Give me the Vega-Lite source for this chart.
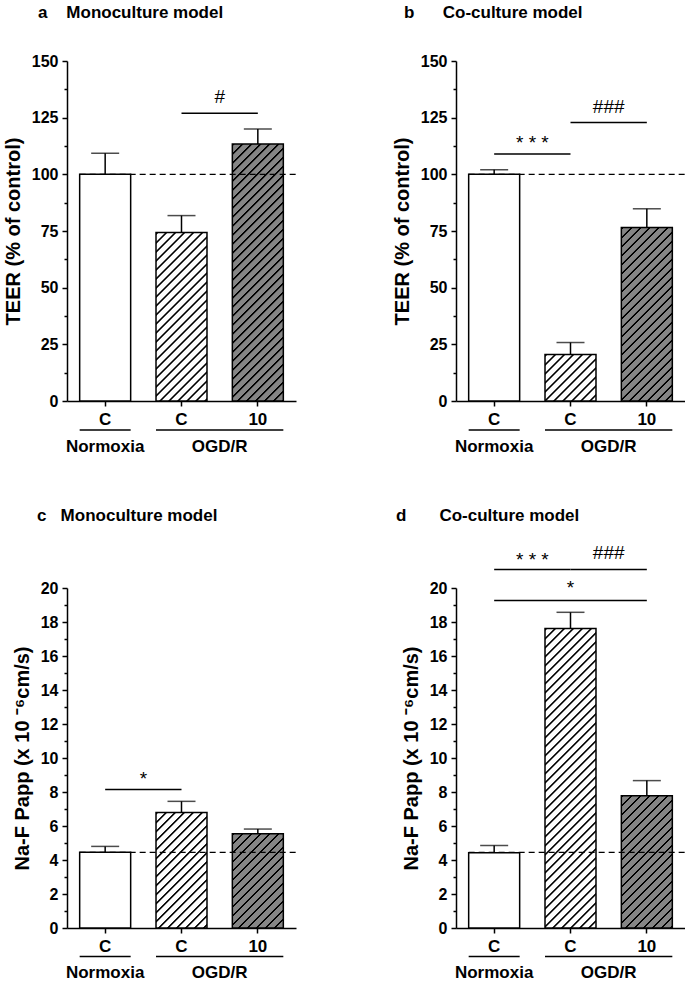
{
"$schema":"https://vega.github.io/schema/vega-lite/v6.json",
"padding":{"left":3,"top":4,"right":0,"bottom":0},
"params":[{"name":"hs","value":[
{"offset":0,"color":"transparent"},{"offset":0.002,"color":"#000"},{"offset":0.006,"color":"#000"},{"offset":0.008,"color":"transparent"},
{"offset":0.025,"color":"transparent"},{"offset":0.027,"color":"#000"},{"offset":0.031,"color":"#000"},{"offset":0.033,"color":"transparent"},
{"offset":0.05,"color":"transparent"},{"offset":0.052,"color":"#000"},{"offset":0.056,"color":"#000"},{"offset":0.058,"color":"transparent"},
{"offset":0.075,"color":"transparent"},{"offset":0.077,"color":"#000"},{"offset":0.081,"color":"#000"},{"offset":0.083,"color":"transparent"},
{"offset":0.1,"color":"transparent"},{"offset":0.102,"color":"#000"},{"offset":0.106,"color":"#000"},{"offset":0.108,"color":"transparent"},
{"offset":0.125,"color":"transparent"},{"offset":0.127,"color":"#000"},{"offset":0.131,"color":"#000"},{"offset":0.133,"color":"transparent"},
{"offset":0.15,"color":"transparent"},{"offset":0.152,"color":"#000"},{"offset":0.156,"color":"#000"},{"offset":0.158,"color":"transparent"},
{"offset":0.175,"color":"transparent"},{"offset":0.177,"color":"#000"},{"offset":0.181,"color":"#000"},{"offset":0.183,"color":"transparent"},
{"offset":0.2,"color":"transparent"},{"offset":0.202,"color":"#000"},{"offset":0.206,"color":"#000"},{"offset":0.208,"color":"transparent"},
{"offset":0.225,"color":"transparent"},{"offset":0.227,"color":"#000"},{"offset":0.231,"color":"#000"},{"offset":0.233,"color":"transparent"},
{"offset":0.25,"color":"transparent"},{"offset":0.252,"color":"#000"},{"offset":0.256,"color":"#000"},{"offset":0.258,"color":"transparent"},
{"offset":0.275,"color":"transparent"},{"offset":0.277,"color":"#000"},{"offset":0.281,"color":"#000"},{"offset":0.283,"color":"transparent"},
{"offset":0.3,"color":"transparent"},{"offset":0.302,"color":"#000"},{"offset":0.306,"color":"#000"},{"offset":0.308,"color":"transparent"},
{"offset":0.325,"color":"transparent"},{"offset":0.327,"color":"#000"},{"offset":0.331,"color":"#000"},{"offset":0.333,"color":"transparent"},
{"offset":0.35,"color":"transparent"},{"offset":0.352,"color":"#000"},{"offset":0.356,"color":"#000"},{"offset":0.358,"color":"transparent"},
{"offset":0.375,"color":"transparent"},{"offset":0.377,"color":"#000"},{"offset":0.381,"color":"#000"},{"offset":0.383,"color":"transparent"},
{"offset":0.4,"color":"transparent"},{"offset":0.402,"color":"#000"},{"offset":0.406,"color":"#000"},{"offset":0.408,"color":"transparent"},
{"offset":0.425,"color":"transparent"},{"offset":0.427,"color":"#000"},{"offset":0.431,"color":"#000"},{"offset":0.433,"color":"transparent"},
{"offset":0.45,"color":"transparent"},{"offset":0.452,"color":"#000"},{"offset":0.456,"color":"#000"},{"offset":0.458,"color":"transparent"},
{"offset":0.475,"color":"transparent"},{"offset":0.477,"color":"#000"},{"offset":0.481,"color":"#000"},{"offset":0.483,"color":"transparent"},
{"offset":0.5,"color":"transparent"},{"offset":0.502,"color":"#000"},{"offset":0.506,"color":"#000"},{"offset":0.508,"color":"transparent"},
{"offset":0.525,"color":"transparent"},{"offset":0.527,"color":"#000"},{"offset":0.531,"color":"#000"},{"offset":0.533,"color":"transparent"},
{"offset":0.55,"color":"transparent"},{"offset":0.552,"color":"#000"},{"offset":0.556,"color":"#000"},{"offset":0.558,"color":"transparent"},
{"offset":0.575,"color":"transparent"},{"offset":0.577,"color":"#000"},{"offset":0.581,"color":"#000"},{"offset":0.583,"color":"transparent"},
{"offset":0.6,"color":"transparent"},{"offset":0.602,"color":"#000"},{"offset":0.606,"color":"#000"},{"offset":0.608,"color":"transparent"},
{"offset":0.625,"color":"transparent"},{"offset":0.627,"color":"#000"},{"offset":0.631,"color":"#000"},{"offset":0.633,"color":"transparent"},
{"offset":0.65,"color":"transparent"},{"offset":0.652,"color":"#000"},{"offset":0.656,"color":"#000"},{"offset":0.658,"color":"transparent"},
{"offset":0.675,"color":"transparent"},{"offset":0.677,"color":"#000"},{"offset":0.681,"color":"#000"},{"offset":0.683,"color":"transparent"},
{"offset":0.7,"color":"transparent"},{"offset":0.702,"color":"#000"},{"offset":0.706,"color":"#000"},{"offset":0.708,"color":"transparent"},
{"offset":0.725,"color":"transparent"},{"offset":0.727,"color":"#000"},{"offset":0.731,"color":"#000"},{"offset":0.733,"color":"transparent"},
{"offset":0.75,"color":"transparent"},{"offset":0.752,"color":"#000"},{"offset":0.756,"color":"#000"},{"offset":0.758,"color":"transparent"},
{"offset":0.775,"color":"transparent"},{"offset":0.777,"color":"#000"},{"offset":0.781,"color":"#000"},{"offset":0.783,"color":"transparent"},
{"offset":0.8,"color":"transparent"},{"offset":0.802,"color":"#000"},{"offset":0.806,"color":"#000"},{"offset":0.808,"color":"transparent"},
{"offset":0.825,"color":"transparent"},{"offset":0.827,"color":"#000"},{"offset":0.831,"color":"#000"},{"offset":0.833,"color":"transparent"},
{"offset":0.85,"color":"transparent"},{"offset":0.852,"color":"#000"},{"offset":0.856,"color":"#000"},{"offset":0.858,"color":"transparent"},
{"offset":0.875,"color":"transparent"},{"offset":0.877,"color":"#000"},{"offset":0.881,"color":"#000"},{"offset":0.883,"color":"transparent"},
{"offset":0.9,"color":"transparent"},{"offset":0.902,"color":"#000"},{"offset":0.906,"color":"#000"},{"offset":0.908,"color":"transparent"},
{"offset":0.925,"color":"transparent"},{"offset":0.927,"color":"#000"},{"offset":0.931,"color":"#000"},{"offset":0.933,"color":"transparent"},
{"offset":0.95,"color":"transparent"},{"offset":0.952,"color":"#000"},{"offset":0.956,"color":"#000"},{"offset":0.958,"color":"transparent"},
{"offset":0.975,"color":"transparent"},{"offset":0.977,"color":"#000"},{"offset":0.981,"color":"#000"},{"offset":0.983,"color":"transparent"}
]}],
"datasets":{
"groups":[{"from":"N","to":"N","g":"Normoxia"},{"from":"O","to":"T","g":"OGD/R"}]
},
"columns":2,
"spacing":{"row":50,"column":95},
"concat":[
{
"name":"pa","width":229,"height":340,
"title":{"text":"a\u00a0\u00a0\u00a0\u00a0Monoculture model","anchor":"start","frame":"group","dx":-29,"offset":18,"baseline":"alphabetic","fontSize":17,"fontWeight":"bold","color":"#000"},
"data":{"values":[{"k":"N","v":100,"hi":109.3},{"k":"O","v":74.3,"hi":81.8},{"k":"T","v":113.4,"hi":120}]},
"layer":[
{"mark":{"type":"bar"},
 "encoding":{
  "x":{"field":"k","type":"nominal","scale":{"domain":["N","O","T"],"paddingInner":0.332,"paddingOuter":0.166},"axis":{"title":null,"labelExpr":"datum.value == 'T' ? '10' : 'C'","labelAngle":0,"labelFontSize":17,"tickSize":5,"labelPadding":5}},
  "y":{"field":"v","type":"quantitative","scale":{"domain":[0,150],"nice":false},"axis":{"title":"TEER (% of control)","values":[0,12.5,25,37.5,50,62.5,75,87.5,100,112.5,125,137.5,150],"tickCount":40,"format":"d","labelExpr":"datum.value % 25 == 0 ? datum.label : ''","labelOverlap":false,"tickSize":{"condition":{"test":"datum.value % 25 == 0","value":5},"value":3},"labelFontSize":16,"titleFontSize":20,"titlePadding":8,"labelPadding":4}},
  "fill":{"field":"k","type":"nominal","scale":{"domain":["N","O","T"],"range":["#ffffff","#ffffff","#858585"]},"legend":null}}},
{"data":{"values":[{"from":"N","to":"T","ref":100}]},"mark":{"type":"rule","strokeDash":[6,4],"strokeWidth":1.3,"color":"#000"},
 "encoding":{"x":{"field":"from","type":"nominal","bandPosition":0},"x2":{"field":"to","bandPosition":1.25},"y":{"field":"ref","type":"quantitative"}}},
{"transform":[{"filter":"datum.k != 'N'"}],"mark":{"type":"bar","fill":{"expr":"{gradient:'linear',x1:0,y1:0,x2:18360/(2601+pow(datum.v*2.26667,2)),y2:360*datum.v*2.26667/(2601+pow(datum.v*2.26667,2)),stops:hs}"}},
 "encoding":{"x":{"field":"k","type":"nominal"},"y":{"field":"v","type":"quantitative"}}},
{"mark":{"type":"bar","fillOpacity":0,"stroke":"#000","strokeWidth":1.5},
 "encoding":{"x":{"field":"k","type":"nominal"},"y":{"field":"v","type":"quantitative"}}},
{"mark":{"type":"rule","color":"#000","strokeWidth":1.5},
 "encoding":{"x":{"field":"k","type":"nominal"},"y":{"field":"v","type":"quantitative"},"y2":{"field":"hi"}}},
{"mark":{"type":"tick","color":"#000","thickness":1.5,"size":28},
 "encoding":{"x":{"field":"k","type":"nominal"},"y":{"field":"hi","type":"quantitative"}}},
{"data":{"values":[{"a":"O","b":"T","y":127,"ty":134,"s":"#"}]},"mark":{"type":"rule","color":"#000","strokeWidth":1.5},
 "encoding":{"x":{"field":"a","type":"nominal","bandPosition":0.5},"x2":{"field":"b","bandPosition":0.5},"y":{"field":"y","type":"quantitative"}}},
{"data":{"values":[{"a":"O","b":"T","y":127,"ty":134,"s":"#"}]},"mark":{"type":"text","fontSize":19,"baseline":"middle","color":"#000"},
 "encoding":{"x":{"field":"b","type":"nominal","bandPosition":-0.2485},"y":{"field":"ty","type":"quantitative"},"text":{"field":"s"}}},
{"data":{"name":"groups"},"mark":{"type":"rule","color":"#000","strokeWidth":1.5},
 "encoding":{"x":{"field":"from","type":"nominal","bandPosition":0},"x2":{"field":"to","bandPosition":1},"y":{"datum":-12.8,"type":"quantitative"}}},
{"data":{"name":"groups"},"transform":[{"filter":"datum.from == 'N'"}],"mark":{"type":"text","fontSize":17,"fontWeight":"bold","baseline":"middle","color":"#000"},
 "encoding":{"x":{"field":"from","type":"nominal","bandPosition":0.5},"y":{"datum":-20.3,"type":"quantitative"},"text":{"field":"g"}}},
{"data":{"name":"groups"},"transform":[{"filter":"datum.from == 'O'"}],"mark":{"type":"text","fontSize":17,"fontWeight":"bold","baseline":"middle","color":"#000"},
 "encoding":{"x":{"field":"to","type":"nominal","bandPosition":-0.2485},"y":{"datum":-20.3,"type":"quantitative"},"text":{"field":"g"}}}
]},
{
"name":"pb","width":229,"height":340,
"title":{"text":"b\u00a0\u00a0\u00a0\u00a0\u00a0\u00a0Co-culture model","anchor":"start","frame":"group","dx":-52,"offset":18,"baseline":"alphabetic","fontSize":17,"fontWeight":"bold","color":"#000"},
"data":{"values":[{"k":"N","v":100,"hi":102},{"k":"O","v":20.5,"hi":25.8},{"k":"T","v":76.5,"hi":84.8}]},
"layer":[
{"mark":{"type":"bar"},
 "encoding":{
  "x":{"field":"k","type":"nominal","scale":{"domain":["N","O","T"],"paddingInner":0.332,"paddingOuter":0.166},"axis":{"title":null,"labelExpr":"datum.value == 'T' ? '10' : 'C'","labelAngle":0,"labelFontSize":17,"tickSize":5,"labelPadding":5}},
  "y":{"field":"v","type":"quantitative","scale":{"domain":[0,150],"nice":false},"axis":{"title":"TEER (% of control)","values":[0,12.5,25,37.5,50,62.5,75,87.5,100,112.5,125,137.5,150],"tickCount":40,"format":"d","labelExpr":"datum.value % 25 == 0 ? datum.label : ''","labelOverlap":false,"tickSize":{"condition":{"test":"datum.value % 25 == 0","value":5},"value":3},"labelFontSize":16,"titleFontSize":20,"titlePadding":8,"labelPadding":4}},
  "fill":{"field":"k","type":"nominal","scale":{"domain":["N","O","T"],"range":["#ffffff","#ffffff","#858585"]},"legend":null}}},
{"data":{"values":[{"from":"N","to":"T","ref":100}]},"mark":{"type":"rule","strokeDash":[6,4],"strokeWidth":1.3,"color":"#000"},
 "encoding":{"x":{"field":"from","type":"nominal","bandPosition":0},"x2":{"field":"to","bandPosition":1.25},"y":{"field":"ref","type":"quantitative"}}},
{"transform":[{"filter":"datum.k != 'N'"}],"mark":{"type":"bar","fill":{"expr":"{gradient:'linear',x1:0,y1:0,x2:18360/(2601+pow(datum.v*2.26667,2)),y2:360*datum.v*2.26667/(2601+pow(datum.v*2.26667,2)),stops:hs}"}},
 "encoding":{"x":{"field":"k","type":"nominal"},"y":{"field":"v","type":"quantitative"}}},
{"mark":{"type":"bar","fillOpacity":0,"stroke":"#000","strokeWidth":1.5},
 "encoding":{"x":{"field":"k","type":"nominal"},"y":{"field":"v","type":"quantitative"}}},
{"mark":{"type":"rule","color":"#000","strokeWidth":1.5},
 "encoding":{"x":{"field":"k","type":"nominal"},"y":{"field":"v","type":"quantitative"},"y2":{"field":"hi"}}},
{"mark":{"type":"tick","color":"#000","thickness":1.5,"size":28},
 "encoding":{"x":{"field":"k","type":"nominal"},"y":{"field":"hi","type":"quantitative"}}},
{"data":{"values":[{"a":"N","b":"O","y":109,"ty":114,"s":"* * *"},{"a":"O","b":"T","y":122.9,"ty":129.5,"s":"###"}]},"mark":{"type":"rule","color":"#000","strokeWidth":1.5},
 "encoding":{"x":{"field":"a","type":"nominal","bandPosition":0.5},"x2":{"field":"b","bandPosition":0.5},"y":{"field":"y","type":"quantitative"}}},
{"data":{"values":[{"a":"N","b":"O","y":109,"ty":114,"s":"* * *"},{"a":"O","b":"T","y":122.9,"ty":129.5,"s":"###"}]},"mark":{"type":"text","fontSize":19,"baseline":"middle","color":"#000"},
 "encoding":{"x":{"field":"b","type":"nominal","bandPosition":-0.2485},"y":{"field":"ty","type":"quantitative"},"text":{"field":"s"}}},
{"data":{"name":"groups"},"mark":{"type":"rule","color":"#000","strokeWidth":1.5},
 "encoding":{"x":{"field":"from","type":"nominal","bandPosition":0},"x2":{"field":"to","bandPosition":1},"y":{"datum":-12.8,"type":"quantitative"}}},
{"data":{"name":"groups"},"transform":[{"filter":"datum.from == 'N'"}],"mark":{"type":"text","fontSize":17,"fontWeight":"bold","baseline":"middle","color":"#000"},
 "encoding":{"x":{"field":"from","type":"nominal","bandPosition":0.5},"y":{"datum":-20.3,"type":"quantitative"},"text":{"field":"g"}}},
{"data":{"name":"groups"},"transform":[{"filter":"datum.from == 'O'"}],"mark":{"type":"text","fontSize":17,"fontWeight":"bold","baseline":"middle","color":"#000"},
 "encoding":{"x":{"field":"to","type":"nominal","bandPosition":-0.2485},"y":{"datum":-20.3,"type":"quantitative"},"text":{"field":"g"}}}
]},
{
"name":"pc","width":229,"height":340,
"title":{"text":"c\u00a0\u00a0\u00a0Monoculture model","anchor":"start","frame":"group","dx":-30,"offset":42,"baseline":"alphabetic","fontSize":17,"fontWeight":"bold","color":"#000"},
"data":{"values":[{"k":"N","v":4.45,"hi":4.8},{"k":"O","v":6.8,"hi":7.45},{"k":"T","v":5.55,"hi":5.82}]},
"layer":[
{"mark":{"type":"bar"},
 "encoding":{
  "x":{"field":"k","type":"nominal","scale":{"domain":["N","O","T"],"paddingInner":0.332,"paddingOuter":0.166},"axis":{"title":null,"labelExpr":"datum.value == 'T' ? '10' : 'C'","labelAngle":0,"labelFontSize":17,"tickSize":5,"labelPadding":5}},
  "y":{"field":"v","type":"quantitative","scale":{"domain":[0,20],"nice":false},"axis":{"title":"Na-F Papp (x 10 \u207b\u2076cm/s)","values":[0,1,2,3,4,5,6,7,8,9,10,11,12,13,14,15,16,17,18,19,20],"tickCount":40,"format":"d","labelExpr":"datum.value % 2 == 0 ? datum.label : ''","labelOverlap":false,"tickSize":{"condition":{"test":"datum.value % 2 == 0","value":5},"value":3},"labelFontSize":16,"titleFontSize":20,"titlePadding":8,"labelPadding":4}},
  "fill":{"field":"k","type":"nominal","scale":{"domain":["N","O","T"],"range":["#ffffff","#ffffff","#858585"]},"legend":null}}},
{"data":{"values":[{"from":"N","to":"T","ref":4.45}]},"mark":{"type":"rule","strokeDash":[6,4],"strokeWidth":1.3,"color":"#000"},
 "encoding":{"x":{"field":"from","type":"nominal","bandPosition":0},"x2":{"field":"to","bandPosition":1.25},"y":{"field":"ref","type":"quantitative"}}},
{"transform":[{"filter":"datum.k != 'N'"}],"mark":{"type":"bar","fill":{"expr":"{gradient:'linear',x1:0,y1:0,x2:18360/(2601+pow(datum.v*17,2)),y2:360*datum.v*17/(2601+pow(datum.v*17,2)),stops:hs}"}},
 "encoding":{"x":{"field":"k","type":"nominal"},"y":{"field":"v","type":"quantitative"}}},
{"mark":{"type":"bar","fillOpacity":0,"stroke":"#000","strokeWidth":1.5},
 "encoding":{"x":{"field":"k","type":"nominal"},"y":{"field":"v","type":"quantitative"}}},
{"mark":{"type":"rule","color":"#000","strokeWidth":1.5},
 "encoding":{"x":{"field":"k","type":"nominal"},"y":{"field":"v","type":"quantitative"},"y2":{"field":"hi"}}},
{"mark":{"type":"tick","color":"#000","thickness":1.5,"size":28},
 "encoding":{"x":{"field":"k","type":"nominal"},"y":{"field":"hi","type":"quantitative"}}},
{"data":{"values":[{"a":"N","b":"O","y":8.14,"ty":8.75,"s":"*"}]},"mark":{"type":"rule","color":"#000","strokeWidth":1.5},
 "encoding":{"x":{"field":"a","type":"nominal","bandPosition":0.5},"x2":{"field":"b","bandPosition":0.5},"y":{"field":"y","type":"quantitative"}}},
{"data":{"values":[{"a":"N","b":"O","y":8.14,"ty":8.75,"s":"*"}]},"mark":{"type":"text","fontSize":19,"baseline":"middle","color":"#000"},
 "encoding":{"x":{"field":"b","type":"nominal","bandPosition":-0.2485},"y":{"field":"ty","type":"quantitative"},"text":{"field":"s"}}},
{"data":{"name":"groups"},"mark":{"type":"rule","color":"#000","strokeWidth":1.5},
 "encoding":{"x":{"field":"from","type":"nominal","bandPosition":0},"x2":{"field":"to","bandPosition":1},"y":{"datum":-1.67,"type":"quantitative"}}},
{"data":{"name":"groups"},"transform":[{"filter":"datum.from == 'N'"}],"mark":{"type":"text","fontSize":17,"fontWeight":"bold","baseline":"middle","color":"#000"},
 "encoding":{"x":{"field":"from","type":"nominal","bandPosition":0.5},"y":{"datum":-2.65,"type":"quantitative"},"text":{"field":"g"}}},
{"data":{"name":"groups"},"transform":[{"filter":"datum.from == 'O'"}],"mark":{"type":"text","fontSize":17,"fontWeight":"bold","baseline":"middle","color":"#000"},
 "encoding":{"x":{"field":"to","type":"nominal","bandPosition":-0.2485},"y":{"datum":-2.65,"type":"quantitative"},"text":{"field":"g"}}}
]},
{
"name":"pd","width":229,"height":340,
"title":{"text":"d\u00a0\u00a0\u00a0\u00a0\u00a0\u00a0\u00a0Co-culture model","anchor":"start","frame":"group","dx":-60,"offset":6,"baseline":"alphabetic","fontSize":17,"fontWeight":"bold","color":"#000"},
"data":{"values":[{"k":"N","v":4.42,"hi":4.85},{"k":"O","v":17.62,"hi":18.57},{"k":"T","v":7.78,"hi":8.67}]},
"layer":[
{"mark":{"type":"bar"},
 "encoding":{
  "x":{"field":"k","type":"nominal","scale":{"domain":["N","O","T"],"paddingInner":0.332,"paddingOuter":0.166},"axis":{"title":null,"labelExpr":"datum.value == 'T' ? '10' : 'C'","labelAngle":0,"labelFontSize":17,"tickSize":5,"labelPadding":5}},
  "y":{"field":"v","type":"quantitative","scale":{"domain":[0,20],"nice":false},"axis":{"title":"Na-F Papp (x 10 \u207b\u2076cm/s)","values":[0,1,2,3,4,5,6,7,8,9,10,11,12,13,14,15,16,17,18,19,20],"tickCount":40,"format":"d","labelExpr":"datum.value % 2 == 0 ? datum.label : ''","labelOverlap":false,"tickSize":{"condition":{"test":"datum.value % 2 == 0","value":5},"value":3},"labelFontSize":16,"titleFontSize":20,"titlePadding":8,"labelPadding":4}},
  "fill":{"field":"k","type":"nominal","scale":{"domain":["N","O","T"],"range":["#ffffff","#ffffff","#858585"]},"legend":null}}},
{"data":{"values":[{"from":"N","to":"T","ref":4.45}]},"mark":{"type":"rule","strokeDash":[6,4],"strokeWidth":1.3,"color":"#000"},
 "encoding":{"x":{"field":"from","type":"nominal","bandPosition":0},"x2":{"field":"to","bandPosition":1.25},"y":{"field":"ref","type":"quantitative"}}},
{"transform":[{"filter":"datum.k != 'N'"}],"mark":{"type":"bar","fill":{"expr":"{gradient:'linear',x1:0,y1:0,x2:18360/(2601+pow(datum.v*17,2)),y2:360*datum.v*17/(2601+pow(datum.v*17,2)),stops:hs}"}},
 "encoding":{"x":{"field":"k","type":"nominal"},"y":{"field":"v","type":"quantitative"}}},
{"mark":{"type":"bar","fillOpacity":0,"stroke":"#000","strokeWidth":1.5},
 "encoding":{"x":{"field":"k","type":"nominal"},"y":{"field":"v","type":"quantitative"}}},
{"mark":{"type":"rule","color":"#000","strokeWidth":1.5},
 "encoding":{"x":{"field":"k","type":"nominal"},"y":{"field":"v","type":"quantitative"},"y2":{"field":"hi"}}},
{"mark":{"type":"tick","color":"#000","thickness":1.5,"size":28},
 "encoding":{"x":{"field":"k","type":"nominal"},"y":{"field":"hi","type":"quantitative"}}},
{"data":{"values":[{"a":"N","b":"O","y":21.09,"ty":21.67,"s":"* * *"},{"a":"O","b":"T","y":21.09,"ty":22.06,"s":"###"},{"a":"N","b":"T","y":19.27,"ty":20.0,"s":"*"}]},"mark":{"type":"rule","color":"#000","strokeWidth":1.5},
 "encoding":{"x":{"field":"a","type":"nominal","bandPosition":0.5},"x2":{"field":"b","bandPosition":0.5},"y":{"field":"y","type":"quantitative"}}},
{"data":{"values":[{"a":"N","b":"O","y":21.09,"ty":21.67,"s":"* * *"},{"a":"O","b":"T","y":21.09,"ty":22.06,"s":"###"}]},"mark":{"type":"text","fontSize":19,"baseline":"middle","color":"#000"},
 "encoding":{"x":{"field":"b","type":"nominal","bandPosition":-0.2485},"y":{"field":"ty","type":"quantitative"},"text":{"field":"s"}}},
{"data":{"values":[{"c":"O","ty":20.0,"s":"*"}]},"mark":{"type":"text","fontSize":19,"baseline":"middle","color":"#000"},
 "encoding":{"x":{"field":"c","type":"nominal","bandPosition":0.5},"y":{"field":"ty","type":"quantitative"},"text":{"field":"s"}}},
{"data":{"name":"groups"},"mark":{"type":"rule","color":"#000","strokeWidth":1.5},
 "encoding":{"x":{"field":"from","type":"nominal","bandPosition":0},"x2":{"field":"to","bandPosition":1},"y":{"datum":-1.67,"type":"quantitative"}}},
{"data":{"name":"groups"},"transform":[{"filter":"datum.from == 'N'"}],"mark":{"type":"text","fontSize":17,"fontWeight":"bold","baseline":"middle","color":"#000"},
 "encoding":{"x":{"field":"from","type":"nominal","bandPosition":0.5},"y":{"datum":-2.65,"type":"quantitative"},"text":{"field":"g"}}},
{"data":{"name":"groups"},"transform":[{"filter":"datum.from == 'O'"}],"mark":{"type":"text","fontSize":17,"fontWeight":"bold","baseline":"middle","color":"#000"},
 "encoding":{"x":{"field":"to","type":"nominal","bandPosition":-0.2485},"y":{"datum":-2.65,"type":"quantitative"},"text":{"field":"g"}}}
]}
],
"config":{
 "font":"Liberation Sans",
 "view":{"stroke":null},
 "axis":{"domainColor":"#000","domainWidth":1.5,"tickColor":"#000","tickWidth":1.5,"labelColor":"#000","labelFontWeight":"bold","titleColor":"#000","titleFontWeight":"bold","grid":false,"labelFont":"Liberation Sans","titleFont":"Liberation Sans","labelOverlap":false},
 "title":{"font":"Liberation Sans"},
 "text":{"font":"Liberation Sans"}
}
}
